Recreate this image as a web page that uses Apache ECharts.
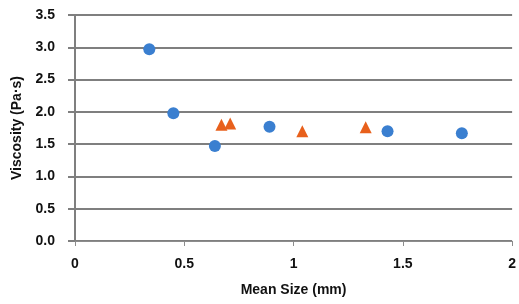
<!DOCTYPE html>
<html>
<head>
<meta charset="utf-8">
<script src="https://cdn.jsdelivr.net/npm/echarts@6/dist/echarts.min.js"></script>
<style>
  html, body { margin: 0; padding: 0; background: #fff; }
  #chart { width: 519px; height: 304px; }
</style>
</head>
<body>
<div id="chart"></div>
<script>
// blue circles
const sizeA = [0.34, 0.45, 0.64, 0.89, 1.43, 1.77]
const viscA = [2.97, 1.98, 1.47, 1.77, 1.70, 1.67]
// orange triangles
const sizeB = [0.67, 0.71, 1.04, 1.33]
const viscB = [1.80, 1.82, 1.70, 1.76]

const xTicks = [0, 0.5, 1, 1.5, 2]
const yTicks = [0, 0.5, 1, 1.5, 2, 2.5, 3, 3.5]

const pairs = (xs, ys) => xs.map((x, i) => [x, ys[i]])

const myChart = echarts.init(document.getElementById('chart'))

const labelFont = {
  color: '#111',
  fontSize: 14,
  fontWeight: 'bold',
  fontFamily: 'Liberation Sans, Arial, sans-serif'
}

myChart.setOption({
  animation: false,
  grid: {
    left: 75,
    right: 4,
    top: 15,
    bottom: 63
  },
  xAxis: {
    type: 'value',
    min: xTicks[0],
    max: xTicks[xTicks.length - 1],
    interval: 0.5,
    name: 'Mean Size (mm)',
    nameLocation: 'middle',
    nameGap: 42,
    nameTextStyle: labelFont,
    axisLine: { lineStyle: { color: '#8c8c8c', width: 1 } },
    axisTick: { show: true, length: 5, lineStyle: { color: '#8c8c8c' } },
    axisLabel: { ...labelFont, margin: 16 },
    splitLine: { show: false }
  },
  yAxis: {
    type: 'value',
    min: yTicks[0],
    max: yTicks[yTicks.length - 1],
    interval: 0.5,
    name: 'Viscosity (Pa·s)',
    nameLocation: 'middle',
    nameGap: 50,
    nameTextStyle: labelFont,
    axisLine: { show: true, lineStyle: { color: '#7f7f7f', width: 2 } },
    axisTick: { show: true, length: 7, lineStyle: { color: '#7f7f7f', width: 2 } },
    axisLabel: {
      ...labelFont,
      margin: 20,
      formatter: v => v.toFixed(1)
    },
    splitLine: { show: true, lineStyle: { color: '#7f7f7f', width: 2 } }
  },
  series: [
    {
      type: 'scatter',
      symbol: 'circle',
      symbolSize: 12,
      data: pairs(sizeA, viscA),
      itemStyle: { color: '#3a7fd0', opacity: 1 }
    },
    {
      type: 'scatter',
      symbol: 'triangle',
      symbolSize: 12,
      data: pairs(sizeB, viscB),
      itemStyle: { color: '#e8601c', opacity: 1 }
    }
  ]
})
</script>
</body>
</html>
